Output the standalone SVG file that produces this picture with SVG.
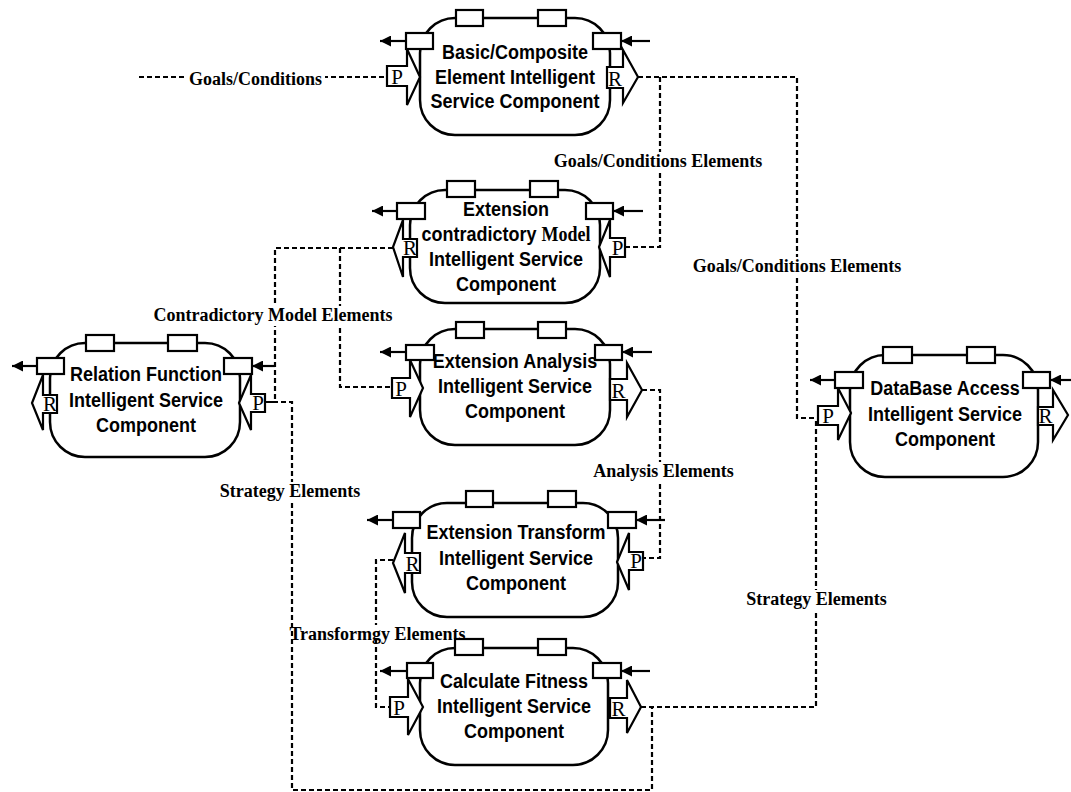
<svg xmlns="http://www.w3.org/2000/svg" width="1071" height="792" viewBox="0 0 1071 792">
<defs>
<marker id="ah" markerUnits="userSpaceOnUse" markerWidth="12" markerHeight="11" refX="11" refY="5.5" orient="auto"><path d="M0,0 L11,5.5 L0,11 z" fill="#000"/></marker>
<style>
.body{fill:#fff;stroke:#000;stroke-width:2.5}
.box{fill:#fff;stroke:#000;stroke-width:2.2}
.port{fill:#fff;stroke:#000;stroke-width:2.2;stroke-linejoin:miter}
.arr{stroke:#000;stroke-width:2.2;marker-end:url(#ah)}
.dash{fill:none;stroke:#000;stroke-width:2.2;stroke-dasharray:5 3}
.t{font-family:"Liberation Sans",Arial,sans-serif;font-weight:bold;font-size:18px;text-anchor:middle;fill:#000}
.serif{font-family:"Liberation Serif","Times New Roman",serif}
.pl{font-family:"Liberation Serif","Times New Roman",serif;font-size:21px;text-anchor:middle;fill:#000}
.lbl{font-family:"Liberation Serif","Times New Roman",serif;font-weight:bold;font-size:18px;text-anchor:middle;fill:#000}
.bg{fill:#fff;stroke:none}
</style>
</defs>
<rect width="1071" height="792" fill="#fff"/>
<g id="connectors">
<path class="dash" d="M139 77 H387"/>
<path class="dash" d="M638 77 H797 V418 H818"/>
<path class="dash" d="M660 77 V247 H625"/>
<path class="dash" d="M393 248 H275 V402 H265"/>
<path class="dash" d="M340 248 V387 H392"/>
<path class="dash" d="M265 402 H292 V790 H652 V707 H641"/>
<path class="dash" d="M641 707 H816 V418"/>
<path class="dash" d="M642 390 H660 V558 H643"/>
<path class="dash" d="M393 560 H376 V707 H390"/>
</g>
<g id="basic-composite">
<rect class="body" x="420" y="18" width="190" height="117" rx="35"/>
<rect class="box" x="456" y="10" width="27" height="16"/>
<rect class="box" x="538" y="10" width="28" height="16"/>
<rect class="box" x="406" y="33" width="27" height="16"/>
<rect class="box" x="593" y="33" width="28" height="16"/>
<line class="arr" x1="406" y1="41" x2="380" y2="41"/>
<line class="arr" x1="650" y1="41" x2="621" y2="41"/>
<polygon class="port" points="387,66 407,66 407,49 420,77 407,105 407,86 387,86"/>
<text class="pl" x="397" y="84">P</text>
<polygon class="port" points="607,67 623,67 623,50 638,77 623,103 623,88 607,88"/>
<text class="pl" x="615" y="86">R</text>
<text class="t" x="515" y="59" transform="matrix(1 0 0 1.12 0 -7.08)">Basic/Composite</text>
<text class="t" x="515" y="84" transform="matrix(1 0 0 1.12 0 -10.08)">Element Intelligent</text>
<text class="t" x="515" y="108" transform="matrix(1 0 0 1.12 0 -12.96)">Service Component</text>
</g>
<g id="extension-contradictory">
<rect class="body" x="410" y="190" width="190" height="113" rx="35"/>
<rect class="box" x="447" y="181" width="28" height="16"/>
<rect class="box" x="530" y="181" width="28" height="16"/>
<rect class="box" x="397" y="203" width="28" height="16"/>
<rect class="box" x="586" y="203" width="27" height="16"/>
<line class="arr" x1="397" y1="211" x2="372" y2="211"/>
<line class="arr" x1="643" y1="211" x2="613" y2="211"/>
<polygon class="port" points="417,239 403,239 403,220 393,247 403,277 403,257 417,257"/>
<text class="pl" x="410" y="255">R</text>
<polygon class="port" points="625,238 610,238 610,220 599,247 610,277 610,257 625,257"/>
<text class="pl" x="617.5" y="255">P</text>
<text class="t" x="506" y="216" transform="matrix(1 0 0 1.12 0 -25.92)">Extension</text>
<text class="t" x="506" y="241" transform="matrix(1 0 0 1.12 0 -28.92)">contradictory <tspan class="serif">Model</tspan></text>
<text class="t" x="506" y="266" transform="matrix(1 0 0 1.12 0 -31.92)">Intelligent Service</text>
<text class="t" x="506" y="291" transform="matrix(1 0 0 1.12 0 -34.92)">Component</text>
</g>
<g id="relation-function">
<rect class="body" x="50" y="343" width="190" height="114" rx="35"/>
<rect class="box" x="86" y="335" width="28" height="16"/>
<rect class="box" x="168" y="335" width="29" height="16"/>
<rect class="box" x="37" y="358" width="27" height="16"/>
<rect class="box" x="224" y="358" width="28" height="16"/>
<line class="arr" x1="37" y1="366" x2="12" y2="366"/>
<line class="arr" x1="275" y1="366" x2="252" y2="366"/>
<polygon class="port" points="57,395 43,395 43,375 32,403 43,430 43,413 57,413"/>
<text class="pl" x="50" y="411">R</text>
<polygon class="port" points="265,394 251,394 251,375 239,403 251,430 251,412 265,412"/>
<text class="pl" x="258" y="410">P</text>
<text class="t" x="146" y="381" transform="matrix(1 0 0 1.12 0 -45.72)">Relation Function</text>
<text class="t" x="146" y="407" transform="matrix(1 0 0 1.12 0 -48.84)">Intelligent Service</text>
<text class="t" x="146" y="432" transform="matrix(1 0 0 1.12 0 -51.84)">Component</text>
</g>
<g id="database-access">
<rect class="body" x="850" y="355" width="188" height="122" rx="35"/>
<rect class="box" x="883" y="347" width="29" height="16"/>
<rect class="box" x="967" y="347" width="28" height="16"/>
<rect class="box" x="835" y="372" width="28" height="16"/>
<rect class="box" x="1023" y="372" width="27" height="16"/>
<line class="arr" x1="835" y1="380" x2="810" y2="380"/>
<line class="arr" x1="1071" y1="380" x2="1050" y2="380"/>
<polygon class="port" points="818,406 838,406 838,388 851,413 838,440 838,425 818,425"/>
<text class="pl" x="828" y="423">P</text>
<polygon class="port" points="1038,407 1053,407 1053,390 1068,415 1053,440 1053,425 1038,425"/>
<text class="pl" x="1045.5" y="423">R</text>
<text class="t" x="945" y="395" transform="matrix(1 0 0 1.12 0 -47.4)">DataBase Access</text>
<text class="t" x="945" y="421" transform="matrix(1 0 0 1.12 0 -50.52)">Intelligent Service</text>
<text class="t" x="945" y="446" transform="matrix(1 0 0 1.12 0 -53.52)">Component</text>
</g>
<g id="extension-analysis">
<rect class="body" x="420" y="329" width="190" height="116" rx="35"/>
<rect class="box" x="456" y="322" width="28" height="16"/>
<rect class="box" x="538" y="322" width="28" height="16"/>
<rect class="box" x="406" y="345" width="28" height="15"/>
<rect class="box" x="595" y="345" width="27" height="15"/>
<line class="arr" x1="406" y1="352" x2="380" y2="352"/>
<line class="arr" x1="652" y1="352" x2="622" y2="352"/>
<polygon class="port" points="392,378 410,378 410,360 423,388 410,417 410,398 392,398"/>
<text class="pl" x="401" y="396">P</text>
<polygon class="port" points="610,379 627,379 627,363 642,390 627,417 627,400 610,400"/>
<text class="pl" x="618.5" y="398">R</text>
<text class="t" x="515" y="368" transform="matrix(1 0 0 1.12 0 -44.16)">Extension Analysis</text>
<text class="t" x="515" y="393" transform="matrix(1 0 0 1.12 0 -47.16)">Intelligent Service</text>
<text class="t" x="515" y="418" transform="matrix(1 0 0 1.12 0 -50.16)">Component</text>
</g>
<g id="extension-transform">
<rect class="body" x="412" y="503" width="206" height="114" rx="35"/>
<rect class="box" x="466" y="491" width="27" height="16"/>
<rect class="box" x="548" y="491" width="28" height="16"/>
<rect class="box" x="393" y="512" width="27" height="16"/>
<rect class="box" x="608" y="512" width="28" height="16"/>
<line class="arr" x1="393" y1="520" x2="367" y2="520"/>
<line class="arr" x1="665" y1="520" x2="636" y2="520"/>
<polygon class="port" points="420,553 405,553 405,533 393,563 405,593 405,573 420,573"/>
<text class="pl" x="412.5" y="571">R</text>
<polygon class="port" points="643,552 629,552 629,533 617,562 629,590 629,570 643,570"/>
<text class="pl" x="636" y="568">P</text>
<text class="t" x="516" y="539" transform="matrix(1 0 0 1.12 0 -64.68)">Extension Transform</text>
<text class="t" x="516" y="565" transform="matrix(1 0 0 1.12 0 -67.8)">Intelligent Service</text>
<text class="t" x="516" y="590" transform="matrix(1 0 0 1.12 0 -70.8)">Component</text>
</g>
<g id="calculate-fitness">
<rect class="body" x="420" y="648" width="188" height="117" rx="35"/>
<rect class="box" x="455" y="639" width="28" height="16"/>
<rect class="box" x="538" y="639" width="28" height="16"/>
<rect class="box" x="407" y="663" width="26" height="15"/>
<rect class="box" x="593" y="663" width="28" height="15"/>
<line class="arr" x1="407" y1="671" x2="380" y2="671"/>
<line class="arr" x1="650" y1="671" x2="621" y2="671"/>
<polygon class="port" points="390,697 408,697 408,679 423,707 408,735 408,717 390,717"/>
<text class="pl" x="399" y="715">P</text>
<polygon class="port" points="610,698 627,698 627,680 641,707 627,733 627,718 610,718"/>
<text class="pl" x="618.5" y="716">R</text>
<text class="t" x="514" y="688" transform="matrix(1 0 0 1.12 0 -82.56)">Calculate Fitness</text>
<text class="t" x="514" y="713" transform="matrix(1 0 0 1.12 0 -85.56)">Intelligent Service</text>
<text class="t" x="514" y="738" transform="matrix(1 0 0 1.12 0 -88.56)">Component</text>
</g>
<g id="connector-labels">
<rect class="bg" x="186" y="70" width="139" height="19"/>
<text class="lbl" x="255.5" y="85">Goals/Conditions</text>
<rect class="bg" x="551" y="152" width="214" height="20"/>
<text class="lbl" x="658" y="167">Goals/Conditions Elements</text>
<rect class="bg" x="690" y="257" width="214" height="20"/>
<text class="lbl" x="797" y="272">Goals/Conditions Elements</text>
<rect class="bg" x="151" y="306" width="244" height="20"/>
<text class="lbl" x="273" y="321">Contradictory Model Elements</text>
<rect class="bg" x="217" y="482" width="146" height="20"/>
<text class="lbl" x="290" y="497">Strategy Elements</text>
<rect class="bg" x="591" y="462" width="145" height="20"/>
<text class="lbl" x="663.5" y="477">Analysis Elements</text>
<rect class="bg" x="744" y="590" width="145" height="20"/>
<text class="lbl" x="816.5" y="605">Strategy Elements</text>
<rect class="bg" x="294" y="625" width="158" height="13"/>
<text class="lbl" x="377.5" y="640">Transformgy Elements</text>
</g>
</svg>
